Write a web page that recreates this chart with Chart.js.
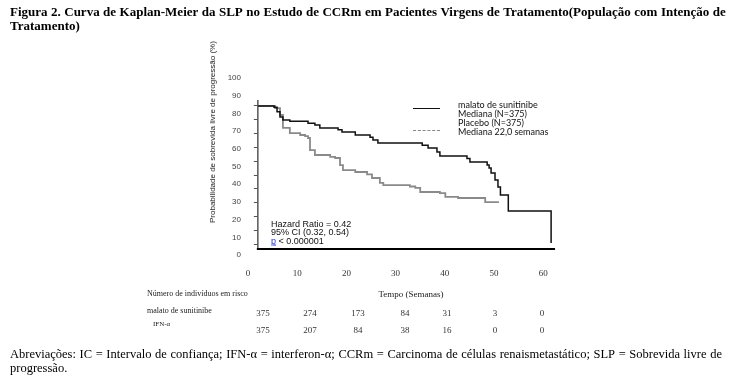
<!DOCTYPE html>
<html><head><meta charset="utf-8">
<script src="https://cdn.jsdelivr.net/npm/chart.js@4.4.1/dist/chart.umd.min.js"></script>
<style>
html,body{margin:0;padding:0;background:#fff;}
#wrap{position:relative;width:738px;height:378px;overflow:hidden;background:#fff;}
canvas{position:absolute;left:0;top:0;}
.t{position:absolute;white-space:nowrap;line-height:1;transform:translateY(-50%);}
.c{transform:translate(-50%,-50%);}
.just{position:absolute;display:flex;justify-content:space-between;white-space:nowrap;line-height:1;transform:translateY(-50%);}
</style></head><body>
<div id="wrap"><canvas id="c" width="738" height="378"></canvas></div>
<script>
// ---- data ----
const sunitinibWeeks = [2.0, 5.3, 5.9, 6.5, 7.1, 8.5, 12.2, 13.6, 14.6, 18.3, 19.1, 21.8, 24.8, 25.4, 26.4, 35.4, 36.6, 38.4, 39.0, 44.5, 45.1, 48.6, 49.0, 49.4, 50.2, 50.8, 51.3, 52.9, 61.6];
const sunitinibPFS   = [84.2, 83.5, 81.0, 78.0, 76.3, 75.6, 74.5, 73.4, 71.8, 70.7, 69.5, 67.8, 66.5, 65.0, 63.3, 62.0, 60.5, 58.2, 55.9, 54.5, 52.5, 50.8, 49.2, 46.3, 42.4, 38.4, 33.9, 24.9, 6.8];
const placeboWeeks   = [2.0, 5.5, 6.5, 7.1, 8.5, 10.6, 11.6, 12.2, 12.6, 13.6, 16.7, 17.7, 18.7, 19.3, 21.8, 24.2, 25.2, 26.8, 27.5, 32.9, 34.0, 35.0, 39.0, 40.1, 42.7, 48.2, 51.0];
const placeboPFS     = [84.2, 83.0, 79.1, 71.8, 68.9, 67.8, 67.2, 66.1, 59.3, 56.5, 55.4, 54.8, 50.8, 48.0, 46.9, 45.5, 43.5, 40.7, 39.5, 38.7, 37.9, 35.6, 35.0, 32.8, 32.2, 29.9, 29.9];
const xTickLabels = [0, 10, 20, 30, 40, 50, 60];
const yTickLabels = [0, 10, 20, 30, 40, 50, 60, 70, 80, 90, 100];
const riskSunitinib = [375, 274, 173, 84, 31, 3, 0];
const riskPlacebo   = [375, 207, 84, 38, 16, 0, 0];

// ---- layout (not data) ----
const riskColX = [263, 310, 358, 405, 447, 495, 542];
const AXIS_X = 2.0, AXIS_Y = 3.4, AXIS_TOP = 87.6, AXIS_END = 62.4;

const wrap = document.getElementById('wrap');
function txt(s, x, y, style, cls){
  const d = document.createElement('div');
  d.className = 't' + (cls ? ' ' + cls : '');
  d.textContent = s;
  d.style.left = x + 'px'; d.style.top = y + 'px';
  Object.assign(d.style, style || {});
  wrap.appendChild(d); return d;
}
function justLine(s, x, y, w, style){
  const d = document.createElement('div');
  d.className = 'just';
  d.style.left = x + 'px'; d.style.top = y + 'px'; d.style.width = w + 'px';
  Object.assign(d.style, style || {});
  s.split(' ').forEach(word => { const sp = document.createElement('span'); sp.textContent = word; d.appendChild(sp); });
  wrap.appendChild(d); return d;
}

// title
const titleFont = {fontFamily:'"Liberation Serif", serif', fontWeight:'bold', fontSize:'13px', color:'#000'};
justLine('Figura 2. Curva de Kaplan-Meier da SLP no Estudo de CCRm em Pacientes Virgens de Tratamento(População com Intenção de', 10, 11, 716, titleFont);
txt('Tratamento)', 10, 25, titleFont);

// footnote
const footFont = {fontFamily:'"Liberation Serif", serif', fontSize:'12.5px', color:'#000'};
justLine('Abreviações: IC = Intervalo de confiança; IFN-α = interferon-α; CCRm = Carcinoma de células renaismetastático; SLP = Sobrevida livre de', 10, 354, 712, footFont);
txt('progressão.', 10, 368, footFont);

// y axis title
txt('Probabilidade de sobrevida livre de progressão (%)', 213, 132, {fontFamily:'"Liberation Sans", sans-serif', fontSize:'8px', color:'#222', transform:'translate(-50%,-50%) rotate(-90deg)'});

// legend
const legFont = {fontFamily:'Lato, "Liberation Sans", sans-serif', fontSize:'9px', color:'#111'};
txt('malato  de sunitinibe', 458, 104, legFont);
txt('Mediana (N=375)', 458, 113, legFont);
txt('Placebo (N=375)', 458, 122, legFont);
txt('Mediana 22,0 semanas', 458, 131, legFont);
const l1 = document.createElement('div');
Object.assign(l1.style, {position:'absolute', left:'413px', top:'108px', width:'27px', height:'0', borderTop:'1.5px solid #111'});
wrap.appendChild(l1);
const l2 = document.createElement('div');
Object.assign(l2.style, {position:'absolute', left:'413px', top:'130px', width:'27px', height:'0', borderTop:'1px dashed #888'});
wrap.appendChild(l2);

// hazard ratio text
const hrFont = {fontFamily:'"Liberation Sans", sans-serif', fontSize:'9px', color:'#111'};
txt('Hazard  Ratio  = 0.42', 271, 224, hrFont);
txt('95% CI (0.32,  0.54)', 271, 232, hrFont);
const p = txt('', 271, 241, hrFont);
p.innerHTML = '<span style="color:#2233cc;text-decoration:underline">p</span> < 0.000001';

// risk table
const rtFont = {fontFamily:'"Liberation Serif", serif', fontSize:'8px', color:'#222'};
txt('Número de indivíduos em risco', 147, 294, rtFont);
txt('Tempo (Semanas)', 411, 294, {fontFamily:'"Liberation Serif", serif', fontSize:'9px', color:'#222'}, 'c');
txt('malato de sunitinibe', 147, 311, rtFont);
txt('IFN-α', 153, 324, {fontFamily:'"Liberation Serif", serif', fontSize:'7px', color:'#222'});
const numFont = {fontFamily:'"Liberation Serif", serif', fontSize:'9px', color:'#333'};
riskSunitinib.forEach((v,i) => txt(String(v), riskColX[i], 313, numFont, 'c'));
riskPlacebo.forEach((v,i) => txt(String(v), riskColX[i], 330, numFont, 'c'));

// inner axis frame drawn through the scales
const innerAxis = {
  id: 'innerAxis',
  beforeDatasetsDraw(chart){
    const {ctx, scales:{x, y}} = chart;
    const x0 = x.getPixelForValue(AXIS_X);
    const y0 = y.getPixelForValue(AXIS_Y);
    ctx.save();
    ctx.strokeStyle = '#555'; ctx.lineWidth = 1.5;
    ctx.beginPath(); ctx.moveTo(x0, y.getPixelForValue(AXIS_TOP)); ctx.lineTo(x0, y0); ctx.stroke();
    ctx.lineWidth = 1;
    for (let k = 0; k <= 10; k++){
      const ty = Math.round(y.getPixelForValue(84.7 - k * 7.85)) + 0.5;
      ctx.beginPath(); ctx.moveTo(x0 - 4, ty); ctx.lineTo(x0, ty); ctx.stroke();
    }
    ctx.strokeStyle = '#000'; ctx.lineWidth = 2;
    ctx.beginPath(); ctx.moveTo(x0 - 1, y0); ctx.lineTo(x.getPixelForValue(AXIS_END), y0); ctx.stroke();
    ctx.restore();
  }
};

new Chart(document.getElementById('c').getContext('2d'), {
  type: 'line',
  data: {
    datasets: [
      { label: 'malato de sunitinibe', data: sunitinibWeeks.map((w,i)=>({x:w, y:sunitinibPFS[i]})),
        stepped: 'before', borderColor: '#111', borderWidth: 1.5, pointRadius: 0, fill: false, clip: false },
      { label: 'Placebo', data: placeboWeeks.map((w,i)=>({x:w, y:placeboPFS[i]})),
        stepped: 'before', borderColor: '#8a8a8a', borderWidth: 1.8, pointRadius: 0, fill: false, clip: false }
    ]
  },
  options: {
    responsive: false, animation: false, devicePixelRatio: 1,
    layout: { padding: { left: 218, top: 78, right: 180, bottom: 93 } },
    plugins: { legend: { display: false }, tooltip: { enabled: false }, title: { display: false } },
    scales: {
      x: { type: 'linear', min: 0, max: 63,
           grid: { display: false, drawTicks: false }, border: { display: false },
           ticks: { stepSize: 10, includeBounds: false, padding: 13, maxRotation: 0,
                    font: { family: 'Liberation Serif', size: 9 }, color: '#333',
                    callback: v => xTickLabels.includes(v) ? String(v) : '' },
           afterFit: s => { s.height = 30; } },
      y: { min: 0, max: 100,
           grid: { display: false, drawTicks: false }, border: { display: false },
           ticks: { stepSize: 10, padding: 7, font: { family: 'Liberation Sans', size: 8 }, color: '#444',
                    callback: v => yTickLabels.includes(v) ? String(v) : '' },
           afterFit: s => { s.width = 30; } }
    }
  },
  plugins: [innerAxis]
});
</script>
</body></html>
